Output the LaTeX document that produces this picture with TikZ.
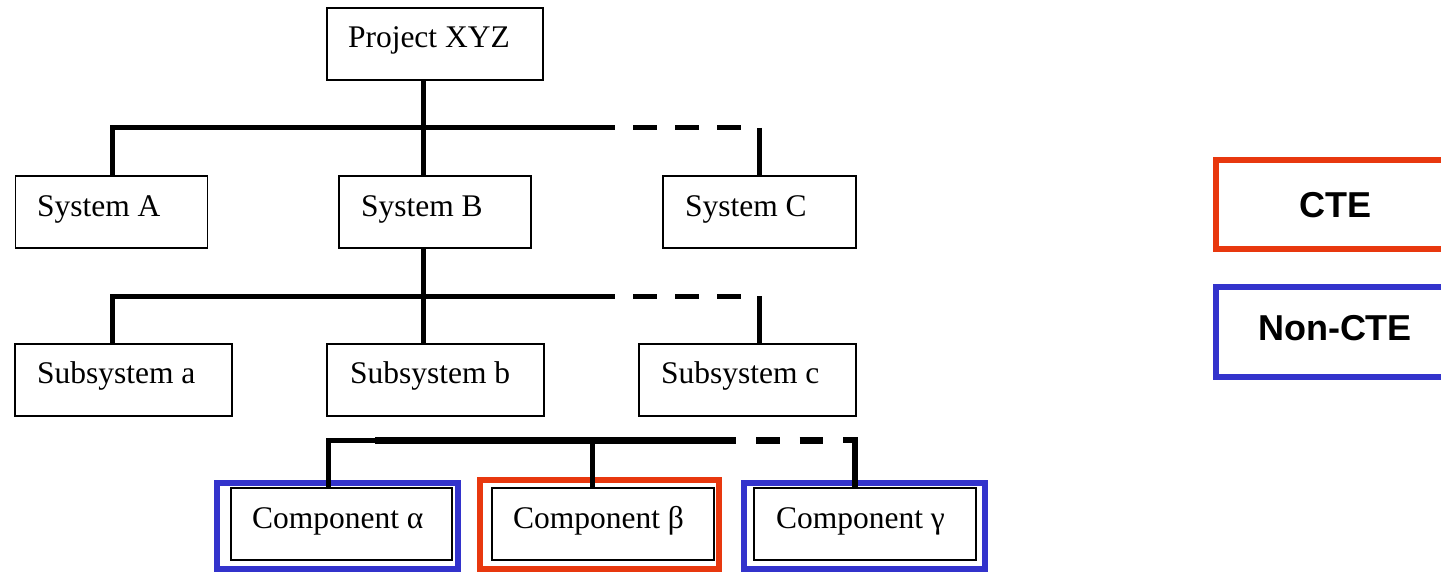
\documentclass[tikz,border=0pt]{standalone}
\usepackage{fontspec}
\setmainfont{Liberation Serif}
\newfontfamily\legendfont{Liberation Sans}
\definecolor{cteRed}{RGB}{232,56,14}
\definecolor{nonBlue}{RGB}{51,51,204}
\tikzset{
  box/.style={draw=black, line width=1.6pt, inner sep=0pt, outer sep=0pt},
  inbox/.style={draw=black, line width=2.2pt, inner sep=0pt, outer sep=0pt},
  bluebox/.style={draw=nonBlue, line width=6pt, inner sep=0pt, outer sep=0pt},
  redbox/.style={draw=cteRed, line width=6pt, inner sep=0pt, outer sep=0pt},
  lbl/.style={anchor=base west, inner sep=0pt, outer sep=0pt, font=\fontsize{31.5pt}{36pt}\selectfont},
  leg/.style={anchor=base, inner sep=0pt, outer sep=0pt, font=\legendfont\bfseries\fontsize{36pt}{40pt}\selectfont},
  conn/.style={line width=5pt},
  thickconn/.style={line width=7pt},
  dashconn/.style={line width=5pt, dash pattern=on 24pt off 18pt, dash phase=24pt},
}
\begin{document}
\begin{tikzpicture}[x=1pt,y=-1pt]
\useasboundingbox (0,0) rectangle (1441,572);
\clip (0,0) rectangle (1441,572);

% level 0
\node[box, minimum width=216pt, minimum height=72pt] (P) at (435,44) {};
\node[lbl] (Pt) at (348,48) {Project XYZ};

% level 1
\node[box, minimum width=192pt, minimum height=72pt] (sA) at (111.5,212) {};
\node[lbl] (sAt) at (37,217) {System A};
\node[box, minimum width=192pt, minimum height=72pt] (sB) at (435,212) {};
\node[lbl] (sBt) at (361,217) {System B};
\node[box, minimum width=193pt, minimum height=72pt] (sC) at (759.5,212) {};
\node[lbl] (sCt) at (685,217) {System C};

% level 2
\node[box, minimum width=217pt, minimum height=72pt] (ssa) at (123.5,380) {};
\node[lbl] (ssat) at (37,383) {Subsystem a};
\node[box, minimum width=217pt, minimum height=72pt] (ssb) at (435.5,380) {};
\node[lbl] (ssbt) at (350,383) {Subsystem b};
\node[box, minimum width=217pt, minimum height=72pt] (ssc) at (747.5,380) {};
\node[lbl] (ssct) at (661,383) {Subsystem c};

% level 3
\node[bluebox, minimum width=240.5pt, minimum height=86pt] (ca) at (337.25,526) {};
\node[inbox, minimum width=220.7pt, minimum height=71.7pt] (cai) at (341.35,524.15) {};
\node[lbl] (cat) at (252,528) {Component α};
\node[redbox, minimum width=239pt, minimum height=89pt] (cb) at (599.5,524.5) {};
\node[inbox, minimum width=221.7pt, minimum height=72pt] (cbi) at (603.15,524) {};
\node[lbl] (cbt) at (513,528) {Component β};
\node[bluebox, minimum width=240.7pt, minimum height=86pt] (cc) at (864.35,526) {};
\node[inbox, minimum width=221.7pt, minimum height=72pt] (cci) at (865.15,524) {};
\node[lbl] (cct) at (776,528) {Component γ};

% legend
\node[redbox, minimum width=238pt, minimum height=89pt] (lc) at (1335,204.5) {};
\node[leg] (lct) at (1335,218) {CTE};
\node[bluebox, minimum width=238pt, minimum height=90pt] (ln) at (1335,332) {};
\node[leg] (lnt) at (1335,340) {Non-CTE};

% connector coordinates
\coordinate (x1) at (423,0);
\coordinate (b1L) at (112,128);
\coordinate (b1M) at (615,128);
\coordinate (b1R) at (741,128);
\coordinate (b1C) at (759,128);
\coordinate (b2L) at (112,296);
\coordinate (b2M) at (615,296);
\coordinate (b2R) at (741,296);
\coordinate (b2C) at (759,296);
\coordinate (b3L) at (328,440);
\coordinate (b3T) at (375,440);
\coordinate (b3B) at (592,440);
\coordinate (b3M) at (736,440);
\coordinate (b3D) at (843,440);
\coordinate (b3R) at (855,440);

% level 0 -> 1
\draw[conn] (P.south -| x1) -- (sB.north -| x1);
\draw[conn] (sA.north -| b1L) -- (b1L) -- (b1M);
\draw[dashconn] (b1M) -- (b1R);
\draw[conn] (b1C) -- (sC.north -| b1C);

% level 1 -> 2
\draw[conn] (sB.south -| x1) -- (ssb.north -| x1);
\draw[conn] (ssa.north -| b2L) -- (b2L) -- (b2M);
\draw[dashconn] (b2M) -- (b2R);
\draw[conn] (b2C) -- (ssc.north -| b2C);

% level 3 bar
\draw[conn] (cai.north -| b3L) -- (b3L) -- (b3T);
\draw[thickconn] (b3T) -- (b3M);
\draw[conn] (b3B) -- (cbi.north -| b3B);
\draw[thickconn, dash pattern=on 23.5pt off 20pt, dash phase=23.5pt] (b3M) -- (b3D);
\draw[line width=6pt] (b3D) -- (b3R) -- (cci.north -| b3R);
\end{tikzpicture}
\end{document}
